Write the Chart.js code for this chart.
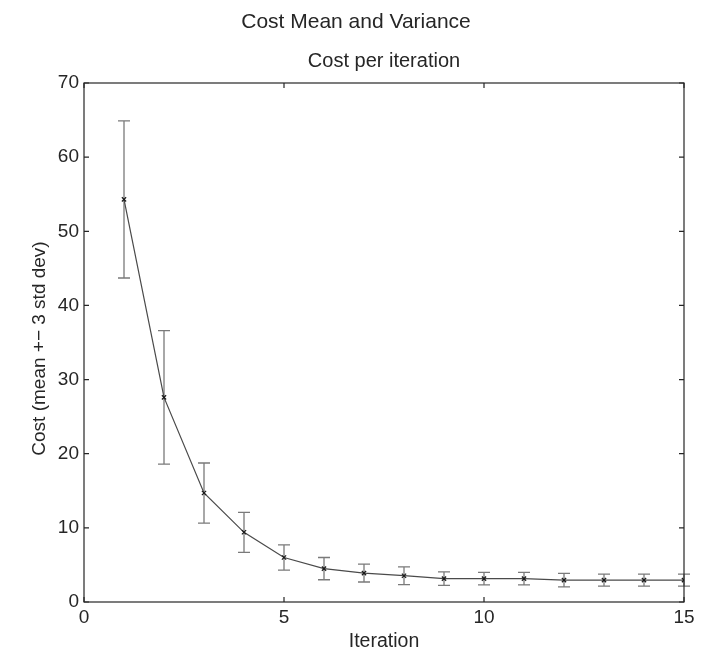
<!DOCTYPE html>
<html>
<head>
<meta charset="utf-8">
<title>Cost Mean and Variance</title>
<script src="https://cdn.jsdelivr.net/npm/chart.js@4/dist/chart.umd.min.js"></script>
<style>
  html, body { margin: 0; padding: 0; background: #fff; }
  #wrap { width: 712px; height: 654px; }
</style>
</head>
<body>
<div id="wrap"><canvas id="costChart" width="712" height="654"></canvas></div>
<script>
// cost per iteration: mean and 3 std dev spread
const iterations = [1, 2, 3, 4, 5, 6, 7, 8, 9, 10, 11, 12, 13, 14, 15];
const costMean = [54.3, 27.6, 14.7, 9.4, 6.0, 4.5, 3.9, 3.55, 3.15, 3.15, 3.15, 2.95, 2.95, 2.95, 2.95];
const costSpread = [10.6, 9.0, 4.05, 2.7, 1.7, 1.5, 1.2, 1.2, 0.9, 0.85, 0.85, 0.9, 0.8, 0.8, 0.8];
const xTicks = [0, 5, 10, 15];
const yTicks = [0, 10, 20, 30, 40, 50, 60, 70];

const FONT = "'Liberation Sans', Arial, Helvetica, sans-serif";
const TEXT = "#262626";

// figure title, axes title and the y label
const figureTitles = {
  id: "figureTitles",
  afterDraw(chart) {
    const { ctx, chartArea: a, width } = chart;
    const mid = (a.left + a.right) / 2;
    ctx.save();
    ctx.fillStyle = TEXT;
    ctx.textAlign = "center";
    ctx.textBaseline = "alphabetic";
    ctx.font = "21px " + FONT;
    ctx.fillText("Cost Mean and Variance", width / 2, 28);
    ctx.font = "20px " + FONT;
    ctx.fillText("Cost per iteration", mid, 67);
    ctx.translate(45, (a.top + a.bottom) / 2 + 6);
    ctx.rotate(-Math.PI / 2);
    ctx.font = "19px " + FONT;
    ctx.fillText("Cost (mean +\u2212 3 std dev)", 0, 0);
    ctx.restore();
  }
};

// vertical error bars with caps, under the mean line
const errorBars = {
  id: "errorBars",
  beforeDatasetsDraw(chart) {
    const { ctx, scales: { x, y } } = chart;
    const cap = 6;
    ctx.save();
    ctx.strokeStyle = "#7a7a7a";
    ctx.lineWidth = 1.3;
    iterations.forEach((it, i) => {
      const px = x.getPixelForValue(it);
      const top = y.getPixelForValue(costMean[i] + costSpread[i]);
      const bot = y.getPixelForValue(costMean[i] - costSpread[i]);
      ctx.beginPath();
      ctx.moveTo(px, top);
      ctx.lineTo(px, bot);
      ctx.moveTo(px - cap, top);
      ctx.lineTo(px + cap, top);
      ctx.moveTo(px - cap, bot);
      ctx.lineTo(px + cap, bot);
      ctx.stroke();
    });
    ctx.restore();
  }
};

// box around the axes with inward ticks on all sides
const axesBox = {
  id: "axesBox",
  afterDraw(chart) {
    const { ctx, chartArea: a, scales: { x, y } } = chart;
    const len = 5;
    ctx.save();
    ctx.strokeStyle = "#262626";
    ctx.lineWidth = 1.2;
    ctx.strokeRect(a.left, a.top, a.right - a.left, a.bottom - a.top);
    ctx.beginPath();
    xTicks.forEach(v => {
      const px = x.getPixelForValue(v);
      ctx.moveTo(px, a.bottom);
      ctx.lineTo(px, a.bottom - len);
      ctx.moveTo(px, a.top);
      ctx.lineTo(px, a.top + len);
    });
    yTicks.forEach(v => {
      const py = y.getPixelForValue(v);
      ctx.moveTo(a.left, py);
      ctx.lineTo(a.left + len, py);
      ctx.moveTo(a.right, py);
      ctx.lineTo(a.right - len, py);
    });
    ctx.stroke();
    ctx.restore();
  }
};

new Chart(document.getElementById("costChart"), {
  type: "line",
  data: {
    datasets: [{
      label: "Cost",
      data: iterations.map((it, i) => ({ x: it, y: costMean[i] })),
      borderColor: "#4a4a4a",
      borderWidth: 1.2,
      pointStyle: "crossRot",
      pointRadius: 3,
      pointBorderColor: "#1a1a1a",
      pointBorderWidth: 1.2,
      tension: 0,
      fill: false
    }]
  },
  options: {
    responsive: false,
    animation: false,
    layout: { padding: { left: 27, right: 28, top: 83, bottom: 1 } },
    plugins: {
      legend: { display: false },
      tooltip: { enabled: false },
      title: { display: false }
    },
    scales: {
      x: {
        type: "linear",
        min: 0,
        max: 15,
        afterFit: s => { s.height = 51; },
        afterBuildTicks: s => { s.ticks = xTicks.map(v => ({ value: v })); },
        grid: { display: false, drawTicks: false },
        border: { display: false },
        ticks: { color: TEXT, padding: 4, font: { family: FONT, size: 19 }, maxRotation: 0 },
        title: {
          display: true,
          text: "Iteration",
          color: TEXT,
          padding: { top: 0, bottom: 0 },
          font: { family: FONT, size: 19.5 }
        }
      },
      y: {
        min: 0,
        max: 70,
        afterFit: s => { s.width = 57; },
        afterBuildTicks: s => { s.ticks = yTicks.map(v => ({ value: v })); },
        grid: { display: false, drawTicks: false },
        border: { display: false },
        ticks: { color: TEXT, padding: 5, font: { family: FONT, size: 19 } }
      }
    }
  },
  plugins: [errorBars, axesBox, figureTitles]
});
</script>
</body>
</html>
